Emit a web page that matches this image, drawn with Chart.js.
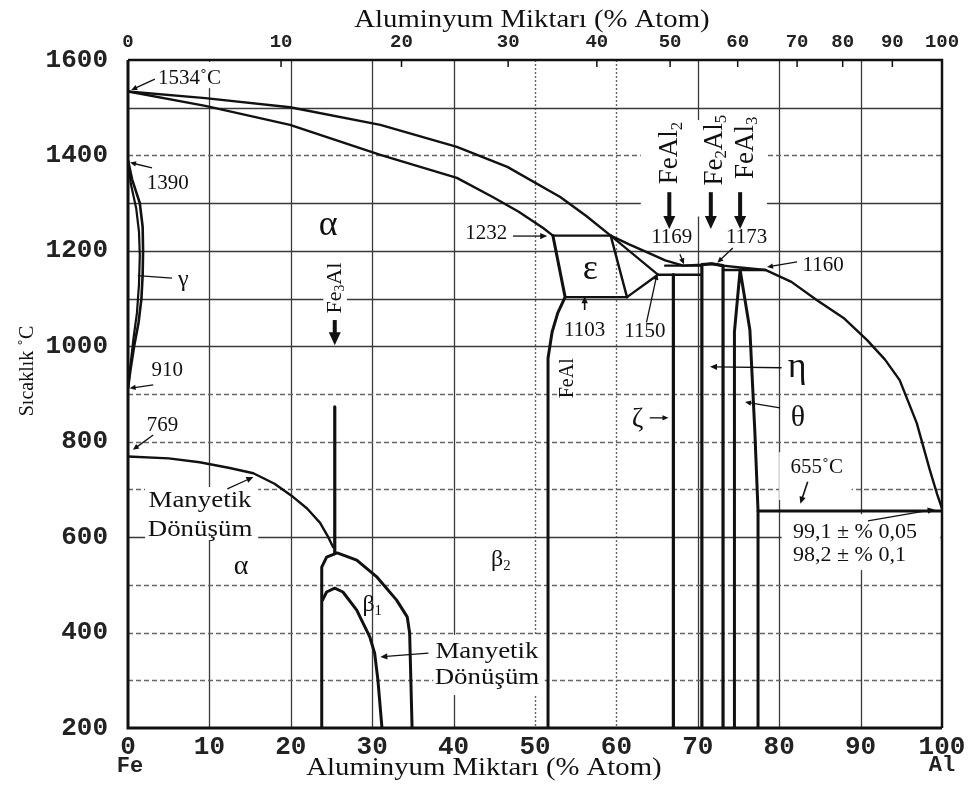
<!DOCTYPE html>
<html>
<head>
<meta charset="utf-8">
<script src="https://cdn.jsdelivr.net/npm/chart.js@4.4.0/dist/chart.umd.min.js"></script>
<style>
  html, body { margin: 0; padding: 0; background: #fff; }
  #wrap { width: 971px; height: 787px; position: relative; }
</style>
</head>
<body>
<div id="wrap"><canvas id="c" width="971" height="787"></canvas></div>
<script>
// Fe–Al phase diagram: temperature (°C) against aluminium content.

// ---- axes ----
const xTicks = [0, 10, 20, 30, 40, 50, 60, 70, 80, 90, 100];
const yTicks = [200, 400, 600, 800, 1000, 1200, 1400, 1600];
const topTickLabels = [0, 10, 20, 30, 40, 50, 60, 70, 80, 90, 100];          // upper scale (mass fraction)
const topTickAt = [0, 18.8, 33.6, 46.7, 57.6, 66.6, 74.9, 82.2, 87.8, 93.9, 100]; // where each sits on the lower scale
const gridX = [10, 20, 30, 40, 50, 60, 70, 80, 90];
const gridXDotted = [50, 60];
const gridY = [300, 400, 500, 600, 700, 800, 900, 1000, 1100, 1200, 1300, 1400, 1500];
const gridYDashed = [300, 400, 500, 700, 800, 900, 1400];

// ---- phase boundaries [x, T] ----
const liquidus = [[0,1534],[9.5,1520],[19.9,1501],[31,1464],[40.4,1418],[46.6,1376],[53.1,1313],[56.3,1273],[59.3,1232],[61.5,1214],[63.8,1197],[66,1180],[68.2,1169],[70.5,1171],[71.7,1173],[73.1,1169],[75.2,1165],[78.3,1160],[81.5,1135],[84.6,1097],[88,1058],[90.8,1013],[93,972],[94.8,929],[96.9,839],[98.5,741],[99.4,690],[100,660]];
const solidusAlpha = [[0,1534],[9.5,1504],[19.9,1464],[31,1401],[40.4,1353],[44.8,1313],[48,1282],[51,1248],[52.2,1232]];
const gammaOuter = [[0,1390],[0.5,1350],[1.45,1300],[1.8,1250],[1.85,1200],[1.8,1150],[1.65,1100],[1.3,1050],[0.75,1000],[0.3,950],[0,912]];
const gammaInner = [[0,1390],[0.35,1340],[1.0,1290],[1.35,1240],[1.45,1190],[1.35,1130],[1.1,1070],[0.7,1020],[0.3,960],[0,912]];
const curie = [[0,769],[5,765],[8.8,757],[12.5,745],[15.4,734],[18,712],[20.3,684],[22,660],[23.6,630],[24.6,600],[25.2,579]];
const fe3alLine = [[25.4,873],[25.4,567]];
const beta1Outer = [[23.8,200],[23.8,537],[24.4,558],[25.7,567],[28.1,552],[30.6,516],[33.0,468],[34.3,433],[34.6,399],[34.9,200]];
const beta1Inner = [[23.9,468],[24.4,485],[25.4,493],[26.4,485],[28.1,447],[29.7,391],[30.3,357],[30.7,301],[31.2,200]];
const feAlBoundary = [[52.2,1232],[53.7,1103],[52.8,1070],[52.1,1030],[51.6,975],[51.6,900],[51.6,200]];
const line1232 = [[52.2,1232],[59.3,1232]];
const epsRight = [[59.3,1232],[61.3,1103]];
const line1103 = [[53.7,1103],[61.3,1103]];
const epsToEutectic = [[61.3,1103],[65.1,1150]];
const epsLiquid = [[59.3,1232],[65.1,1150]];
const line1150 = [[65.1,1150],[70.5,1150]];
const line1169 = [[66.0,1169],[70.5,1169]];
const zeta = [[67.0,200],[67.0,1150]];
const eta = [[70.5,200],[70.5,1171],[71.7,1173],[73.1,1169],[73.1,200]];
const line1160 = [[73.1,1160],[78.3,1160]];
const theta = [[74.5,200],[74.5,1030],[75.2,1160],[76.4,1034],[77.0,824],[77.4,655],[77.4,200]];
const line655 = [[77.4,655],[100,655]];

const boundaries = [
  [liquidus, 2.4], [solidusAlpha, 2.4], [gammaOuter, 2.6], [gammaInner, 2.2], [curie, 2.4],
  [fe3alLine, 3.2], [beta1Outer, 3], [beta1Inner, 3], [feAlBoundary, 3], [line1232, 2.4],
  [epsRight, 2.4], [line1103, 2.4], [epsToEutectic, 2.4], [epsLiquid, 2.2], [line1150, 2.4],
  [line1169, 2.4], [zeta, 3.2], [eta, 3.2], [line1160, 2.4], [theta, 3], [line655, 3]
];

// ---- annotations (data coordinates) ----
const SERIF = '"Liberation Serif", "Times New Roman", serif';
const notes = [
  { runs: [['1534˚C']], x: 3.7, y: 1562, size: 21, align: 'left' },
  { runs: [['1390']], x: 2.3, y: 1342, size: 21, align: 'left' },
  { runs: [['γ']], x: 6.8, y: 1139, size: 24 },
  { runs: [['910']], x: 2.9, y: 950, size: 21, align: 'left' },
  { runs: [['769']], x: 2.3, y: 835, size: 21, align: 'left' },
  { runs: [['α']], x: 24.6, y: 1252, size: 36 },
  { runs: [['Fe'], ['3', 1], ['Al']], x: 25.4, y: 1122, size: 22, rot: true },
  { runs: [['1232']], x: 44.0, y: 1237, size: 21 },
  { runs: [['ε']], x: 56.8, y: 1160, size: 36 },
  { runs: [['1103']], x: 56.1, y: 1034, size: 21 },
  { runs: [['FeAl']], x: 54.0, y: 933, size: 20, rot: true },
  { runs: [['1150']], x: 63.5, y: 1030, size: 21 },
  { runs: [['1169']], x: 66.8, y: 1227, size: 21 },
  { runs: [['1173']], x: 76.0, y: 1227, size: 21 },
  { runs: [['1160']], x: 85.4, y: 1170, size: 21 },
  { runs: [['FeAl'], ['2', 1]], x: 66.6, y: 1405, size: 27, rot: true },
  { runs: [['Fe'], ['2', 1], ['Al'], ['5', 1]], x: 72.1, y: 1411, size: 27, rot: true },
  { runs: [['FeAl'], ['3', 1]], x: 75.9, y: 1416, size: 27, rot: true },
  { runs: [['ζ']], x: 62.6, y: 846, size: 28 },
  { runs: [['η']], x: 82.2, y: 955, size: 36 },
  { runs: [['θ']], x: 82.3, y: 850, size: 30 },
  { runs: [['655˚C']], x: 84.6, y: 745, size: 21 },
  { runs: [['99,1 ± % 0,05']], x: 81.7, y: 611, size: 22, align: 'left' },
  { runs: [['98,2 ± % 0,1']], x: 81.7, y: 562, size: 22, align: 'left' },
  { runs: [['Manyetik']], x: 8.85, y: 676, size: 24, sx: 1.12 },
  { runs: [['Dönüşüm']], x: 8.85, y: 615, size: 24, sx: 1.12 },
  { runs: [['α']], x: 13.9, y: 539, size: 28 },
  { runs: [['β'], ['1', 1]], x: 30.0, y: 458, size: 24 },
  { runs: [['β'], ['2', 1]], x: 45.8, y: 552, size: 24 },
  { runs: [['Manyetik']], x: 44.1, y: 359, size: 24, sx: 1.12 },
  { runs: [['Dönüşüm']], x: 44.1, y: 305, size: 24, sx: 1.12 }
];
// leader lines: [x1, T1, x2, T2, head length, line width]
const leaders = [
  [3.3, 1560, 0.4, 1537, 6, 1.3],
  [2.95, 1374, 0.25, 1385, 6, 1.3],
  [5.4, 1143, 1.2, 1148, 0, 1.3],
  [3.1, 919, 0.2, 912, 6, 1.3],
  [3.1, 814, 0.6, 783, 6, 1.3],
  [47.3, 1231, 51.5, 1231, 7, 1.3],
  [56.1, 1076, 56.1, 1105, 7, 1.6],
  [63.7, 1050, 65.0, 1152, 6, 1.3],
  [67.8, 1193, 68.3, 1172, 6, 1.3],
  [74.3, 1206, 72.4, 1175, 6, 1.3],
  [82.2, 1177, 78.5, 1166, 6, 1.3],
  [64.1, 850, 66.4, 850, 6, 1.3],
  [80.3, 955, 71.5, 957, 7, 1.3],
  [80.1, 871, 75.8, 883, 6, 1.3],
  [83.5, 716, 82.6, 670, 7, 1.6],
  [90.9, 634, 99.1, 658, 7, 1.3],
  [12.2, 701, 15.4, 726, 7, 1.3],
  [36.9, 357, 31.0, 349, 7, 1.3]
];
// heavy pointer arrows under the compound names
const bigArrows = [
  [66.5, 1323, 66.5, 1246],
  [71.6, 1323, 71.6, 1246],
  [75.2, 1323, 75.2, 1246],
  [25.4, 1055, 25.4, 1002]
];
// white backing behind labels
const masks = [
  [63.0, 1474, 78.5, 1272],
  [2.7, 1596, 13.3, 1541],
  [24.0, 1185, 26.9, 1059],
  [2.1, 705, 16.0, 594],
  [37.5, 395, 51.2, 269],
  [80.3, 648, 99.8, 531],
  [80.0, 778, 88.9, 678]
];

// ---- helpers ----
function fontStr(size, family, weight) { return (weight || 'normal') + ' ' + size + 'px ' + family; }
function runsWidth(ctx, runs, size, family) {
  let w = 0;
  for (const [t, sub] of runs) { ctx.font = fontStr(sub ? size * 0.62 : size, family); w += ctx.measureText(t).width; }
  return w;
}
function drawRuns(ctx, px, py, note) {
  const size = note.size, fam = SERIF;
  ctx.save();
  ctx.translate(px, py);
  if (note.rot) ctx.rotate(-Math.PI / 2);
  if (note.sx) ctx.scale(note.sx, 1);
  const w = runsWidth(ctx, note.runs, size, fam);
  let x = note.align === 'left' ? 0 : -w / 2;
  ctx.textBaseline = 'middle';
  ctx.textAlign = 'left';
  ctx.fillStyle = '#111';
  for (const [t, sub] of note.runs) {
    ctx.font = fontStr(sub ? size * 0.62 : size, fam);
    ctx.fillText(t, x, sub ? size * 0.26 : 0);
    x += ctx.measureText(t).width;
  }
  ctx.restore();
}
function arrow(ctx, x1, y1, x2, y2, head, width, headW) {
  const a = Math.atan2(y2 - y1, x2 - x1);
  const hw = headW || head * 0.45;
  const bx = head ? x2 - head * Math.cos(a) : x2, by = head ? y2 - head * Math.sin(a) : y2;
  ctx.lineWidth = width;
  ctx.beginPath(); ctx.moveTo(x1, y1); ctx.lineTo(head ? bx + Math.cos(a) : x2, head ? by + Math.sin(a) : y2); ctx.stroke();
  if (head) {
    ctx.beginPath();
    ctx.moveTo(x2, y2);
    ctx.lineTo(bx + hw * Math.sin(a), by - hw * Math.cos(a));
    ctx.lineTo(bx - hw * Math.sin(a), by + hw * Math.cos(a));
    ctx.closePath(); ctx.fill();
  }
}

const backdrop = {
  id: 'backdrop',
  beforeDatasetsDraw(chart) {
    const { ctx, chartArea: a, scales: { x, y } } = chart;
    ctx.save();
    for (const v of gridX) {
      const px = Math.round(x.getPixelForValue(v)) + 0.5;
      const dotted = gridXDotted.includes(v);
      ctx.strokeStyle = dotted ? '#666' : '#3a3a3a';
      ctx.lineWidth = dotted ? 1.4 : 1.3;
      ctx.setLineDash(dotted ? [2, 2] : []);
      ctx.beginPath(); ctx.moveTo(px, a.top); ctx.lineTo(px, a.bottom); ctx.stroke();
    }
    for (const v of gridY) {
      const py = Math.round(y.getPixelForValue(v)) + 0.5;
      const dashed = gridYDashed.includes(v);
      ctx.strokeStyle = dashed ? '#666' : '#3a3a3a';
      ctx.lineWidth = dashed ? 1.4 : 1.5;
      ctx.setLineDash(dashed ? [5, 3] : []);
      ctx.beginPath(); ctx.moveTo(a.left, py); ctx.lineTo(a.right, py); ctx.stroke();
    }
    ctx.setLineDash([]);
    ctx.fillStyle = '#fff';
    for (const [x1, t1, x2, t2] of masks) {
      const px1 = x.getPixelForValue(x1), px2 = x.getPixelForValue(x2);
      const py1 = y.getPixelForValue(t1), py2 = y.getPixelForValue(t2);
      ctx.fillRect(px1, py1, px2 - px1, py2 - py1);
    }
    ctx.restore();
  },
  afterDatasetsDraw(chart) {
    const { ctx, chartArea: a, scales: { x, y, xTop } } = chart;
    ctx.save();
    ctx.strokeStyle = '#111';
    ctx.fillStyle = '#111';
    // frame
    ctx.lineWidth = 3;
    ctx.beginPath(); ctx.moveTo(a.left, a.top); ctx.lineTo(a.left, a.bottom); ctx.lineTo(a.right, a.bottom); ctx.stroke();
    ctx.lineWidth = 2.5;
    ctx.beginPath(); ctx.moveTo(a.left, a.top); ctx.lineTo(a.right, a.top); ctx.lineTo(a.right, a.bottom); ctx.stroke();
    // short marks of the upper scale
    ctx.lineWidth = 1.5;
    for (const v of topTickAt.slice(1, -1)) {
      const px = xTop.getPixelForValue(v);
      ctx.beginPath(); ctx.moveTo(px, a.top); ctx.lineTo(px, a.top + 7); ctx.stroke();
    }
    // leaders
    for (const [x1, t1, x2, t2, head, lw] of leaders) {
      arrow(ctx, x.getPixelForValue(x1), y.getPixelForValue(t1), x.getPixelForValue(x2), y.getPixelForValue(t2), head, lw);
    }
    for (const [x1, t1, x2, t2] of bigArrows) {
      arrow(ctx, x.getPixelForValue(x1), y.getPixelForValue(t1), x.getPixelForValue(x2), y.getPixelForValue(t2), 13, 4, 6);
    }
    // labels
    for (const n of notes) drawRuns(ctx, x.getPixelForValue(n.x), y.getPixelForValue(n.y), n);
    // titles and end-member names
    drawRuns(ctx, 532, 20, { runs: [['Aluminyum Miktarı (% Atom)']], size: 25, sx: 1.15 });
    drawRuns(ctx, 484, 768, { runs: [['Aluminyum Miktarı (% Atom)']], size: 25, sx: 1.15 });
    drawRuns(ctx, 28, 371, { runs: [['Sıcaklık ˚C']], size: 20, rot: true });
    ctx.font = 'bold 22px "Liberation Mono", monospace';
    ctx.textAlign = 'center'; ctx.textBaseline = 'middle';
    ctx.fillStyle = '#222';
    ctx.fillText('Fe', x.getPixelForValue(0) + 2, 766);
    ctx.fillText('Al', x.getPixelForValue(100), 765);
    ctx.restore();
  }
};

const datasets = boundaries.map(([pts, w]) => ({
  data: pts.map(([px, t]) => ({ x: px, y: t })),
  showLine: true,
  borderColor: '#111',
  borderWidth: w,
  pointRadius: 0,
  tension: 0,
  fill: false,
  borderJoinStyle: 'round',
  borderCapStyle: 'round'
}));

const tickFont = { family: '"Liberation Mono", monospace', size: 26, weight: 'bold' };

new Chart(document.getElementById('c'), {
  type: 'scatter',
  data: { datasets },
  options: {
    responsive: false,
    animation: false,
    devicePixelRatio: 1,
    layout: { padding: { left: 0, right: 29, top: 0, bottom: 0 } },
    plugins: { legend: { display: false }, tooltip: { enabled: false } },
    scales: {
      x: {
        type: 'linear', position: 'bottom', min: 0, max: 100,
        afterBuildTicks: s => { s.ticks = xTicks.map(v => ({ value: v })); },
        afterFit: s => { s.height = 59; },
        grid: { display: false, drawTicks: false },
        border: { display: false },
        ticks: { autoSkip: false, maxRotation: 0, padding: 4, color: '#222', font: tickFont, callback: v => String(v) }
      },
      xTop: {
        type: 'linear', position: 'top', min: 0, max: 100,
        afterBuildTicks: s => { s.ticks = topTickAt.map(v => ({ value: v })); },
        afterFit: s => { s.height = 60; },
        grid: { display: false, drawTicks: false },
        border: { display: false },
        ticks: {
          autoSkip: false, maxRotation: 0, padding: 6, color: '#222',
          font: { family: '"Liberation Mono", monospace', size: 19, weight: 'bold' },
          callback: (v, i) => String(topTickLabels[i])
        }
      },
      y: {
        type: 'linear', position: 'left', min: 200, max: 1600,
        afterBuildTicks: s => { s.ticks = yTicks.map(v => ({ value: v })); },
        afterFit: s => { s.width = 128; },
        grid: { display: false, drawTicks: false },
        border: { display: false },
        ticks: { autoSkip: false, padding: 20, color: '#222', font: tickFont, callback: v => String(v) }
      }
    }
  },
  plugins: [backdrop]
});
</script>
</body>
</html>
